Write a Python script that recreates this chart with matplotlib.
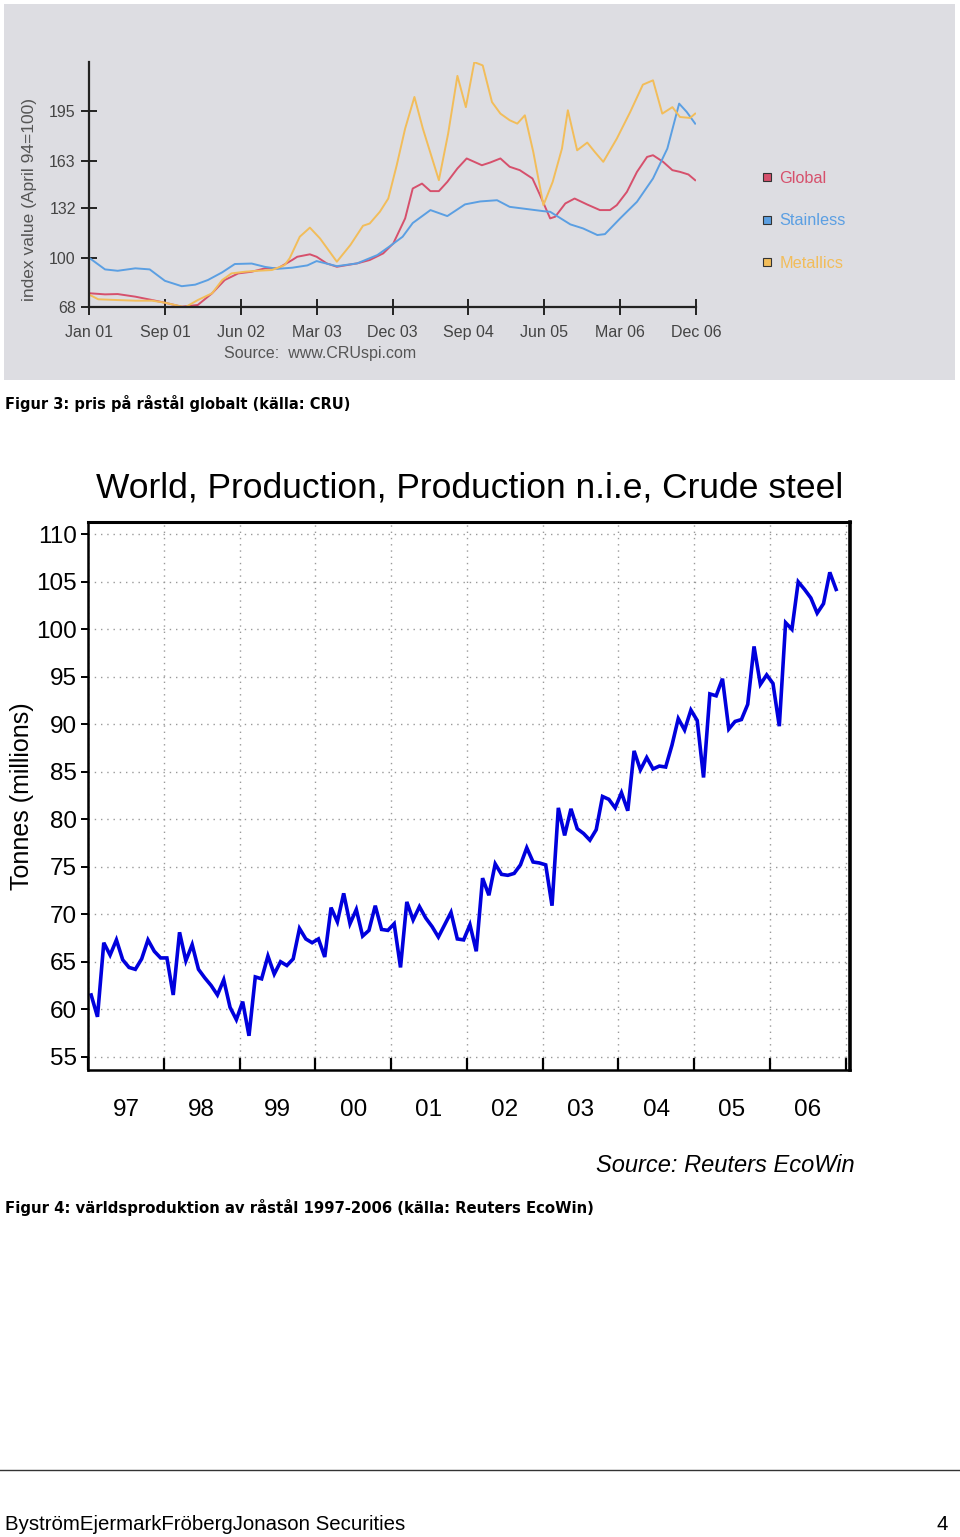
import numpy as np
import matplotlib.pyplot as plt
from matplotlib.patches import Rectangle
from matplotlib.lines import Line2D

plt.rcParams['font.family'] = ['Liberation Sans', 'DejaVu Sans']

# --- CRU steel price index (April 94 = 100), month offset from Jan 01 ---
global_m = [0.1, 1.9, 3.4, 5.5, 7.5, 9.0, 11.0, 12.9, 14.6, 16.1, 17.7, 19.3, 20.9, 22.4,
            24.1, 24.7, 26.2, 27.0, 28.2, 29.4, 31.8, 33.3, 34.9, 36.1, 37.5, 38.4, 39.5,
            40.5, 41.5, 42.5, 43.7, 44.8, 46.6, 47.6, 48.8, 49.9, 51.1, 52.6, 53.5, 54.7,
            55.3, 56.5, 57.6, 59.1, 60.6, 61.8, 62.6, 63.8, 65.0, 66.2, 66.9, 68.1, 69.2,
            70.1, 71.1, 71.9]
global_v = [76.9, 76.2, 76.4, 74.7, 72.5, 70.8, 68.2, 69.3, 76.9, 85.5, 89.8, 90.9, 93.1, 93.1,
            98.5, 100.6, 102.2, 100.6, 96.3, 94.1, 96.3, 98.5, 102.8, 109.3, 125.5, 144.9, 148.1,
            143.2, 143.2, 149.2, 157.9, 164.4, 160.0, 161.8, 164.4, 159.0, 156.8, 151.4, 140.6, 125.5,
            126.6, 135.2, 138.4, 134.5, 130.9, 130.9, 134.1, 142.7, 155.7, 165.4, 166.5, 162.2, 156.8,
            155.7, 154.0, 150.3]

stainless_m = [0.1, 1.9, 3.4, 5.5, 7.2, 9.0, 11.0, 12.6, 14.1, 15.8, 17.3, 19.3, 20.9, 22.4,
               24.1, 25.9, 27.0, 29.4, 31.8, 34.2, 35.7, 37.2, 38.4, 40.5, 42.5, 44.6, 46.4,
               48.4, 49.9, 53.9, 54.7, 57.1, 58.6, 60.3, 61.2, 63.0, 65.0, 66.9, 68.6, 70.0,
               70.9, 71.9]
stainless_v = [99.6, 92.4, 91.5, 93.1, 92.4, 85.0, 81.5, 82.5, 85.5, 90.5, 95.9, 96.2, 94.0, 92.8,
               93.5, 95.0, 97.8, 94.5, 96.3, 101.7, 107.5, 113.6, 122.5, 130.9, 127.0, 134.6, 136.5,
               137.3, 133.0, 130.2, 129.8, 121.6, 119.0, 114.7, 115.3, 125.5, 136.3, 151.4, 170.8, 200.0,
               194.6, 187.0]

metallics_m = [0.1, 1.1, 3.4, 5.5, 7.5, 9.0, 11.4, 12.9, 14.6, 15.8, 16.9, 18.5, 20.0, 21.7,
               23.2, 23.8, 25.0, 26.2, 27.4, 29.4, 31.0, 32.5, 33.3, 34.5, 35.5, 36.5, 37.5,
               38.6, 39.6, 41.5, 42.6, 43.7, 44.7, 45.7, 46.7, 47.8, 48.8, 49.9, 50.8, 51.7,
               52.7, 53.9, 55.0, 56.1, 56.8, 57.9, 59.1, 60.0, 61.0, 62.6, 64.2, 65.7, 66.9,
               68.0, 69.2, 70.1, 71.3, 71.9]
metallics_v = [75.8, 73.0, 72.5, 72.1, 72.1, 70.8, 67.8, 72.5, 76.9, 85.5, 89.8, 90.9, 91.5, 92.0,
               95.2, 99.6, 113.6, 119.5, 112.5, 97.4, 108.2, 120.7, 122.2, 129.8, 138.4, 160.0, 183.8,
               204.3, 183.8, 150.3, 180.5, 218.0, 197.7, 226.9, 224.8, 201.0, 193.5, 189.2, 187.0, 192.4,
               168.6, 134.1, 149.2, 170.8, 195.7, 169.7, 174.7, 168.6, 162.2, 177.2, 194.6, 212.3, 215.1,
               193.5, 197.7, 191.3, 190.7, 193.5]

cru_ticks = [0, 9, 18, 27, 36, 45, 54, 63, 72]
cru_labels = ['Jan 01', 'Sep 01', 'Jun 02', 'Mar 03', 'Dec 03', 'Sep 04', 'Jun 05', 'Mar 06', 'Dec 06']
cru_yticks = [68, 100, 132, 163, 195]

# --- World crude steel production, monthly Jan 97 - Nov 06 (million tonnes) ---
crude_steel = [61.5, 59.2, 67.0, 65.7, 67.3, 65.2, 64.4, 64.2, 65.3, 67.3,
               66.1, 65.4, 65.4, 61.5, 68.1, 65.1, 66.8, 64.2, 63.3, 62.5,
               61.5, 63.1, 60.2, 58.9, 60.8, 57.2, 63.4, 63.2, 65.6, 63.7,
               65.0, 64.6, 65.3, 68.5, 67.4, 67.0, 67.4, 65.5, 70.7, 69.2,
               72.2, 69.0, 70.5, 67.7, 68.3, 70.9, 68.4, 68.3, 69.0, 64.4,
               71.3, 69.4, 70.8, 69.6, 68.7, 67.6, 68.9, 70.2, 67.4, 67.3,
               68.9, 66.1, 73.8, 72.0, 75.3, 74.2, 74.1, 74.3, 75.2, 77.0,
               75.5, 75.4, 75.2, 70.9, 81.2, 78.3, 81.1, 79.0, 78.5, 77.8,
               78.9, 82.4, 82.1, 81.2, 82.8, 80.9, 87.2, 85.2, 86.5, 85.3,
               85.6, 85.5, 87.8, 90.6, 89.4, 91.5, 90.4, 84.4, 93.2, 93.0,
               94.8, 89.5, 90.3, 90.5, 92.1, 98.2, 94.2, 95.2, 94.3, 89.8,
               100.7, 100.0, 105.0, 104.2, 103.3, 101.7, 102.7, 106.0, 104.2]
years = ['97', '98', '99', '00', '01', '02', '03', '04', '05', '06']

W, H = 960, 1537
fig = plt.figure(figsize=(W / 100, H / 100), dpi=100)

def fx(px):
    return px / W

def fy(py):
    return 1 - py / H

# grey backdrop of the pasted CRU image
fig.patches.append(Rectangle((fx(4), fy(380)), fx(951), 376 / H, transform=fig.transFigure,
                             facecolor='#dddde2', edgecolor='none', zorder=-10))

# ---------------- top chart ----------------
ax1 = fig.add_axes([fx(89), fy(307), fx(607), 245 / H])
ax1.set_facecolor('none')
c_glob, c_stain, c_met = '#d6506c', '#5b9fe2', '#f2bd5a'
ax1.plot(global_m, global_v, color=c_glob, lw=1.4)
ax1.plot(stainless_m, stainless_v, color=c_stain, lw=1.4)
ax1.plot(metallics_m, metallics_v, color=c_met, lw=1.4)
ax1.set_xlim(0, 72)
ax1.set_ylim(68, 227)
for s in ['top', 'right']:
    ax1.spines[s].set_visible(False)
for s in ['left', 'bottom']:
    ax1.spines[s].set_color('#222222')
    ax1.spines[s].set_linewidth(1.6)
ax1.set_xticks(cru_ticks)
ax1.set_xticklabels(cru_labels)
ax1.set_yticks(cru_yticks)
ax1.tick_params(direction='inout', length=12, width=1.4, colors='#222222',
                labelsize=11.5, labelcolor='#444444')
ax1.tick_params(axis='x', pad=7)
ax1.set_ylabel('index value (April 94=100)', fontsize=12.5, color='#555555')
ax1.yaxis.set_label_coords(-0.086, 0.44)
ax1.text(0.38, -0.19, 'Source:  www.CRUspi.com', transform=ax1.transAxes, ha='center',
         va='center', fontsize=11.5, color='#555555')
handles = [Line2D([], [], ls='none', marker='s', markersize=6, markerfacecolor=c,
                  markeredgecolor='#333333', markeredgewidth=0.8)
           for c in [c_glob, c_stain, c_met]]
leg = fig.legend(handles, ['Global', 'Stainless', 'Metallics'], loc='upper left',
                 bbox_to_anchor=(fx(746), fy(156)), frameon=False, fontsize=11.7,
                 handlelength=0.8, handletextpad=0.35, labelspacing=1.7,
                 labelcolor=[c_glob, c_stain, c_met])

fig.text(fx(5), fy(404), 'Figur 3: pris på råstål globalt (källa: CRU)', fontsize=10.5,
         fontweight='bold', va='center', ha='left', family='DejaVu Sans')

# ---------------- bottom chart ----------------
ax2 = fig.add_axes([fx(88), fy(1070), fx(762), 548 / H])
x = np.arange(len(crude_steel)) + 0.5
ax2.plot(x, crude_steel, color='#0000dd', lw=2.6, solid_joinstyle='miter')
ax2.set_xlim(0, 120.7)
ax2.set_ylim(53.6, 111.3)
ax2.set_yticks(np.arange(55, 111, 5))
ax2.set_xticks(np.arange(0, 121, 12))
ax2.set_xticklabels([])
ax2.set_xticks(np.arange(6, 120, 12), minor=True)
ax2.set_xticklabels(years, minor=True)
ax2.tick_params(axis='x', which='major', direction='in', length=9, width=1.6)
ax2.tick_params(axis='x', which='minor', length=0, labelsize=17.5, pad=21)
ax2.tick_params(axis='y', direction='out', length=5, width=1.4, labelsize=17.5, pad=3)
ax2.grid(True, which='major', linestyle=(0, (1, 3.5)), color='#999999', lw=1.0)
for s in ax2.spines.values():
    s.set_linewidth(1.8)
ax2.spines['right'].set_linewidth(2.6)
ax2.spines['top'].set_linewidth(2.2)
ax2.set_ylabel('Tonnes (millions)', fontsize=18)
ax2.yaxis.set_label_coords(-0.071, 0.5)

fig.text(fx(470), fy(488), 'World, Production, Production n.i.e, Crude steel',
         fontsize=25.5, ha='center', va='center')
fig.text(fx(855), fy(1166), 'Source: Reuters EcoWin', fontsize=17, style='italic',
         ha='right', va='center')
fig.text(fx(5), fy(1208), 'Figur 4: världsproduktion av råstål 1997-2006 (källa: Reuters EcoWin)',
         fontsize=10.7, fontweight='bold', va='center', ha='left', family='DejaVu Sans')

# footer
fig.add_artist(Line2D([0, 1], [fy(1470), fy(1470)], color='#333333', lw=1.0,
                      transform=fig.transFigure))
fig.text(fx(5), fy(1525), 'ByströmEjermarkFröbergJonason Securities', fontsize=14.7,
         va='center', ha='left')
fig.text(fx(948), fy(1525), '4', fontsize=14.7, va='center', ha='right')

fig.savefig('out.png', dpi=100)
